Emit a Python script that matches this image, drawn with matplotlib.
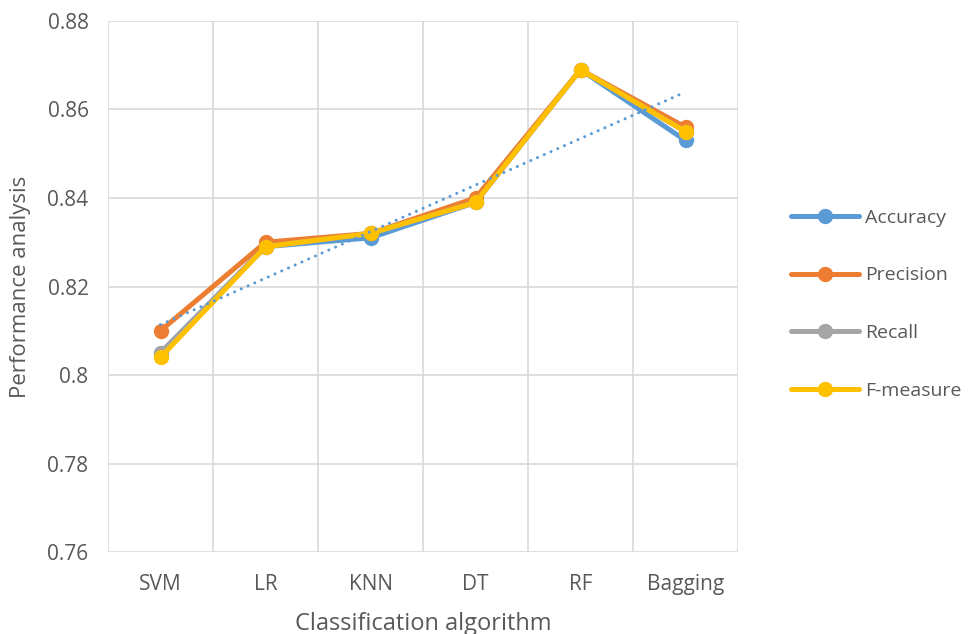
import matplotlib
matplotlib.use("Agg")
import matplotlib.pyplot as plt
import numpy as np

categories = ["SVM", "LR", "KNN", "DT", "RF", "Bagging"]
accuracy = [0.805, 0.829, 0.831, 0.839, 0.869, 0.853]
precision = [0.810, 0.830, 0.832, 0.840, 0.869, 0.856]
recall = [0.805, 0.829, 0.832, 0.839, 0.869, 0.855]
f_measure = [0.804, 0.829, 0.832, 0.839, 0.869, 0.855]
y_ticks = [0.76, 0.78, 0.80, 0.82, 0.84, 0.86, 0.88]
y_tick_labels = ["0.76", "0.78", "0.8", "0.82", "0.84", "0.86", "0.88"]

INK = "#595959"
GRID = "#d9d9d9"
plt.rcParams.update({
    "font.family": ["Open Sans", "DejaVu Sans"],
    "font.size": 12,
    "text.color": INK,
    "axes.labelcolor": INK,
    "xtick.color": INK,
    "ytick.color": INK,
})

fig = plt.figure(figsize=(9.74, 6.34), dpi=100)
ax = fig.add_axes([0.1109, 0.1293, 0.6468, 0.8376])

x = np.arange(len(categories))
series = [
    ("Accuracy", accuracy, "#5b9bd5"),
    ("Precision", precision, "#ed7d31"),
    ("Recall", recall, "#a5a5a5"),
    ("F-measure", f_measure, "#ffc000"),
]
for name, vals, col in series:
    ax.plot(x, vals, color=col, linewidth=3.6, marker="o", markersize=10,
            solid_capstyle="round", label=name, zorder=3)

# linear trendline on accuracy
k, b = np.polyfit(x, accuracy, 1)
ax.plot(x, k * x + b, color="#5b9bd5", linewidth=2.2, linestyle=(0, (0.01, 2.4)),
        dash_capstyle="round", zorder=4)

ax.set_xlim(-0.5, len(categories) - 0.5)
ax.set_ylim(0.76, 0.88)
ax.set_yticks(y_ticks)
ax.set_yticklabels(y_tick_labels)
ax.set_xticks(x)
ax.set_xticklabels(categories)
ax.set_xticks(np.arange(-0.5, len(categories)), minor=True)
ax.tick_params(which="both", length=0, labelsize=15)
ax.tick_params(axis="x", pad=16)
ax.tick_params(axis="y", pad=14)
ax.grid(axis="y", which="major", color=GRID, linewidth=1.2)
ax.grid(axis="x", which="minor", color=GRID, linewidth=1.2)
for s in ax.spines.values():
    s.set_visible(False)
ax.set_axisbelow(True)

ax.set_xlabel("Classification algorithm", fontsize=17, labelpad=12)
ax.set_ylabel("Performance analysis", fontsize=16, labelpad=12)

fig.legend(loc="center left", bbox_to_anchor=(0.812, 0.520), frameon=False,
           borderpad=0, borderaxespad=0,
           fontsize=14, labelspacing=2.05, handlelength=3.5, handletextpad=0.3)

fig.savefig("out.png", dpi=100)
